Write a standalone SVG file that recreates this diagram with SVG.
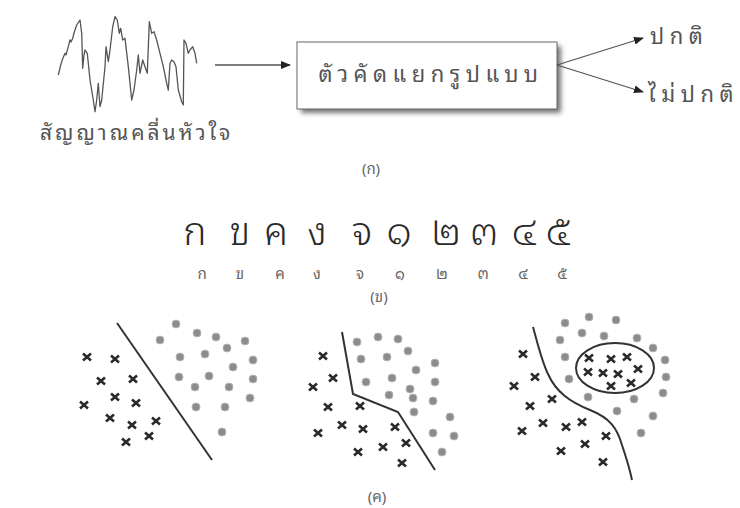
<svg xmlns="http://www.w3.org/2000/svg" width="740" height="508" viewBox="0 0 740 508">
<style>
.th{font-family:"Noto Sans Thai Looped","Loma","Garuda","Norasi","Noto Serif Thai","Noto Sans Thai","Noto Sans","DejaVu Sans",sans-serif;fill:#555}
.lbl{font-size:21px;letter-spacing:3px}
.big{font-size:22px;letter-spacing:5.5px}
.cap{font-size:15px;text-anchor:middle;fill:#666}
.hw{font-size:39px;text-anchor:middle;fill:#2a2a2a;font-weight:300}
.pr{font-size:15px;text-anchor:middle;fill:#666}
.ln{stroke:#333;stroke-width:2;fill:none}
.dot{fill:#8c8c8c;stroke:#b4b4b4;stroke-width:1}
.edge{stroke:#555;stroke-width:1.3;fill:none}
</style>
<defs>
<marker id="ah" viewBox="0 0 10 10" refX="9" refY="5" markerWidth="10" markerHeight="10" markerUnits="userSpaceOnUse" orient="auto"><path d="M0,1 L10,5 L0,9 z" fill="#222"/></marker>
<filter id="sh" x="-10%" y="-20%" width="130%" height="160%"><feGaussianBlur stdDeviation="2.5"/></filter>
<path id="x" d="M-4,-3.5 L4,3.5 M-4,3.5 L4,-3.5" stroke="#2a2a2a" stroke-width="2.6"/>
<circle id="o" r="4" class="dot"/>
</defs>
<rect width="740" height="508" fill="#fff"/>

<g id="signal">
<path fill="none" stroke="#555" stroke-width="1.3" stroke-linejoin="round" d="M58.3,75 L60,68 L61.7,61.7 L63,58 L65,53.3 L66,55 L68.3,46.7 L70,40 L71,42 L72.7,38.3 L74,33 L76.7,25 L78,23 L80,20 L81.7,33.3 L82.7,68.3 L84,55 L85,50 L87.3,53.3 L90,80 L93.3,100 L95,111.7 L96.7,100 L98.3,83.3 L100,106.7 L101.7,100 L105,66.7 L106,46.7 L108.3,61.7 L110,50 L112.7,26.7 L115,16.7 L117.3,20 L119.3,33.3 L120.7,28.3 L122.7,40 L125,38.3 L128.3,66.7 L131.7,100 L134,90 L136.7,70 L138.3,55 L140,73.3 L142.7,60 L145,66.7 L147.3,73.3 L149.3,21.7 L151.7,33.3 L154,31.7 L156.7,40 L160,53.3 L163.3,66.7 L166.7,83.3 L168.3,90 L170,63.3 L171.7,60 L174,61.7 L176,66.7 L178.3,90 L181.7,101.7 L183.3,105 L184,40 L186,43.3 L188.3,53.3 L190,50 L192.7,46.7 L195,53.3 L196.7,63.3"/>
<text class="th lbl" x="40" y="140">สัญญาณคลื่นหัวใจ</text>
</g>

<g id="classifier">
<rect x="301" y="46" width="260" height="67" fill="#777" filter="url(#sh)"/>
<rect x="297" y="42" width="260" height="67" fill="#fff" stroke="#666" stroke-width="1"/>
<text class="th big" x="431" y="82" text-anchor="middle">ตัวคัดแยกรูปแบบ</text>
</g>

<g id="normal"><text class="th big" x="650" y="44">ปกติ</text></g>
<g id="abnormal"><text class="th big" x="648" y="102">ไม่ปกติ</text></g>

<g id="connectors">
<line class="edge" x1="215" y1="65" x2="290" y2="65" marker-end="url(#ah)"/>
<line class="edge" x1="557" y1="65" x2="643" y2="38" marker-end="url(#ah)"/>
<line class="edge" x1="557" y1="65" x2="643" y2="92" marker-end="url(#ah)"/>
</g>

<text class="th cap" x="371" y="174">(ก)</text>

<g id="handwritten">
<text class="th hw" x="195" y="245">ก</text>
<text class="th hw" x="240" y="245">ข</text>
<text class="th hw" x="276" y="245">ค</text>
<text class="th hw" x="317" y="245">ง</text>
<text class="th hw" x="362" y="245">จ</text>
<text class="th hw" x="399" y="245">๑</text>
<text class="th hw" x="446" y="245">๒</text>
<text class="th hw" x="484" y="245">๓</text>
<text class="th hw" x="524" y="245">๔</text>
<text class="th hw" x="558" y="245">๕</text>
</g>
<g id="printed">
<text class="th pr" x="202" y="279">ก</text>
<text class="th pr" x="240" y="279">ข</text>
<text class="th pr" x="280" y="279">ค</text>
<text class="th pr" x="317" y="279">ง</text>
<text class="th pr" x="360" y="279">จ</text>
<text class="th pr" x="400" y="279">๑</text>
<text class="th pr" x="442" y="279">๒</text>
<text class="th pr" x="483" y="279">๓</text>
<text class="th pr" x="523" y="279">๔</text>
<text class="th pr" x="562" y="279">๕</text>
</g>
<text class="th cap" x="379" y="302">(ข)</text>

<g id="plot1">
<line class="ln" x1="117" y1="323" x2="212" y2="460"/>
<use href="#x" x="87" y="357"/><use href="#x" x="115" y="359"/><use href="#x" x="101" y="381"/><use href="#x" x="133" y="379"/>
<use href="#x" x="84" y="405"/><use href="#x" x="115" y="397"/><use href="#x" x="136" y="403"/><use href="#x" x="110" y="418"/>
<use href="#x" x="132" y="425"/><use href="#x" x="156" y="421"/><use href="#x" x="149" y="436"/><use href="#x" x="126" y="442"/>
<use href="#o" x="176" y="324"/><use href="#o" x="160" y="340"/><use href="#o" x="197" y="333"/><use href="#o" x="216" y="337"/>
<use href="#o" x="245" y="341"/><use href="#o" x="227" y="348"/><use href="#o" x="180" y="357"/><use href="#o" x="205" y="354"/>
<use href="#o" x="253" y="360"/><use href="#o" x="233" y="367"/><use href="#o" x="179" y="377"/><use href="#o" x="209" y="376"/>
<use href="#o" x="253" y="379"/><use href="#o" x="195" y="387"/><use href="#o" x="229" y="387"/><use href="#o" x="250" y="398"/>
<use href="#o" x="196" y="407"/><use href="#o" x="225" y="407"/><use href="#o" x="222" y="432"/>
</g>

<g id="plot2">
<polyline class="ln" points="342,332 353,394 398,412 435,470"/>
<use href="#x" x="323" y="356"/><use href="#x" x="333" y="378"/><use href="#x" x="313" y="387"/><use href="#x" x="328" y="407"/>
<use href="#x" x="360" y="406"/><use href="#x" x="318" y="433"/><use href="#x" x="342" y="425"/><use href="#x" x="363" y="429"/>
<use href="#x" x="395" y="427"/><use href="#x" x="406" y="443"/><use href="#x" x="358" y="452"/><use href="#x" x="383" y="447"/>
<use href="#x" x="402" y="463"/>
<use href="#o" x="357" y="342"/><use href="#o" x="378" y="337"/><use href="#o" x="398" y="339"/><use href="#o" x="408" y="351"/>
<use href="#o" x="361" y="359"/><use href="#o" x="387" y="357"/><use href="#o" x="416" y="370"/><use href="#o" x="435" y="363"/>
<use href="#o" x="366" y="382"/><use href="#o" x="392" y="378"/><use href="#o" x="410" y="389"/><use href="#o" x="435" y="382"/>
<use href="#o" x="389" y="395"/><use href="#o" x="413" y="398"/><use href="#o" x="433" y="401"/><use href="#o" x="414" y="412"/>
<use href="#o" x="450" y="417"/><use href="#o" x="433" y="433"/><use href="#o" x="454" y="436"/><use href="#o" x="442" y="452"/>
</g>

<g id="plot3">
<path class="ln" d="M533,327 C538,345 542,362 548,374 C556,392 570,402 590,410 C610,418 617,428 622,445 C627,460 630,470 632,480"/>
<ellipse class="ln" cx="615" cy="368" rx="39" ry="25"/>
<use href="#x" x="523" y="354"/><use href="#x" x="535" y="377"/><use href="#x" x="514" y="386"/><use href="#x" x="552" y="399"/>
<use href="#x" x="530" y="406"/><use href="#x" x="522" y="431"/><use href="#x" x="543" y="423"/><use href="#x" x="566" y="427"/>
<use href="#x" x="582" y="422"/><use href="#x" x="606" y="436"/><use href="#x" x="585" y="444"/><use href="#x" x="561" y="451"/>
<use href="#x" x="603" y="462"/>
<use href="#x" x="589" y="358"/><use href="#x" x="611" y="359"/><use href="#x" x="627" y="357"/><use href="#x" x="588" y="372"/>
<use href="#x" x="603" y="373"/><use href="#x" x="618" y="374"/><use href="#x" x="638" y="369"/><use href="#x" x="611" y="386"/>
<use href="#x" x="631" y="383"/>
<use href="#o" x="565" y="323"/><use href="#o" x="589" y="317"/><use href="#o" x="616" y="320"/><use href="#o" x="560" y="340"/>
<use href="#o" x="582" y="333"/><use href="#o" x="604" y="336"/><use href="#o" x="637" y="338"/><use href="#o" x="653" y="348"/>
<use href="#o" x="565" y="357"/><use href="#o" x="665" y="360"/><use href="#o" x="666" y="377"/><use href="#o" x="569" y="379"/>
<use href="#o" x="663" y="393"/><use href="#o" x="588" y="397"/><use href="#o" x="634" y="399"/><use href="#o" x="617" y="411"/>
<use href="#o" x="653" y="416"/><use href="#o" x="641" y="433"/>
</g>
<text class="th cap" x="377" y="502">(ค)</text>
</svg>
